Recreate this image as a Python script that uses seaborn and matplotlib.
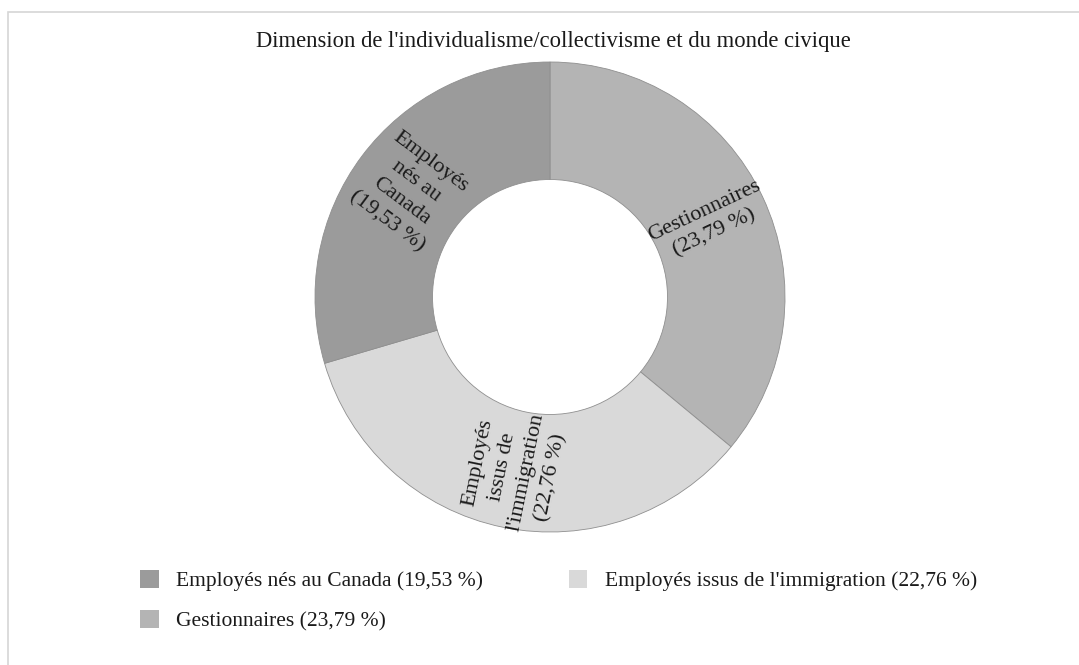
import numpy as np
import matplotlib
matplotlib.use("Agg")
import matplotlib.pyplot as plt
from matplotlib.patches import Rectangle
import seaborn as sns

# ---- data ----
categories = ["Gestionnaires", "Employés issus de l'immigration", "Employés nés au Canada"]
values = [23.79, 22.76, 19.53]
value_labels = ["23,79 %", "22,76 %", "19,53 %"]
slice_labels = ["Gestionnaires\n(23,79 %)",
                "Employés\nissus de\nl'immigration\n(22,76 %)",
                "Employés\nnés au\nCanada\n(19,53 %)"]
title = "Dimension de l'individualisme/collectivisme et du monde civique"
colors = ["#b4b4b4", "#d9d9d9", "#9b9b9b"]

sns.set_theme(style="white")
plt.rcParams['font.family'] = ['Liberation Serif', 'DejaVu Serif']

W, H = 1079, 665
fig = plt.figure(figsize=(W / 100, H / 100), dpi=100)
fig.patch.set_facecolor("white")

# outer frame (only top/left visible in reference)
fig.patches.append(Rectangle((8 / W, -0.1), 1.2, 1 - 12 / H + 0.1, transform=fig.transFigure,
                             fill=False, edgecolor="#d6d6d6", linewidth=1.2))

cx, cy, R = 550, 297, 235
ax = fig.add_axes([(cx - R) / W, 1 - (cy + R) / H, 2 * R / W, 2 * R / H])
wedges, _ = ax.pie(values, colors=colors, startangle=90, counterclock=False,
                   radius=1.0, wedgeprops=dict(width=0.5, edgecolor="#8f8f8f", linewidth=0.6))
ax.set_xlim(-1, 1)
ax.set_ylim(-1, 1)
ax.set_aspect("equal")
ax.axis("off")

for w, lab in zip(wedges, slice_labels):
    th = np.deg2rad((w.theta1 + w.theta2) / 2)
    r = 0.75
    ang = np.rad2deg(th)
    ang = (ang + 180) % 360 - 180
    rot = ang if -90 <= ang <= 90 else (ang + 180 if ang < -90 else ang - 180)
    ax.text(r * np.cos(th), r * np.sin(th), lab, ha="center", va="center",
            rotation=rot, rotation_mode="anchor", fontsize=16, linespacing=1.4,
            color="#1a1a1a", multialignment="center")

fig.text(553 / W, 1 - 42 / H, title, ha="center", va="center", fontsize=16.3, color="#1a1a1a")

# legend: order so column-major filling gives rows (Canada, Immigration) / (Gestionnaires)
order = [2, 0, 1]
handles = [Rectangle((0, 0), 1, 1, facecolor=colors[i], edgecolor="none") for i in order]
labels = [f"{categories[i]} ({value_labels[i]})" for i in order]
leg = fig.legend(handles, labels, loc="upper left", bbox_to_anchor=(121 / W, 1 - 551 / H),
                 ncol=2, frameon=False, fontsize=15.5, handlelength=0.85, handleheight=0.85,
                 handletextpad=0.8, columnspacing=4.0, labelspacing=0.88)
for t in leg.get_texts():
    t.set_color("#1a1a1a")

fig.savefig("out.png", dpi=100, facecolor="white")
